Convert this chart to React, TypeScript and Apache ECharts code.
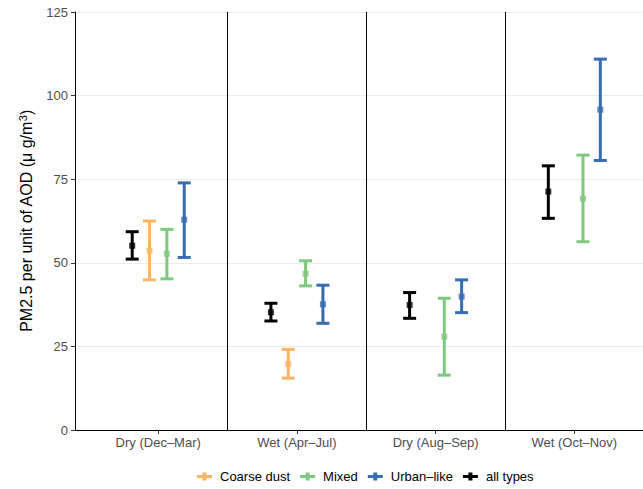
import React, { useEffect, useRef } from "react";
import * as echarts from "echarts";

const categories = ["Dry (Dec–Mar)", "Wet (Apr–Jul)", "Dry (Aug–Sep)", "Wet (Oct–Nov)"];

// order of dodge inside each season
const groupNames = ["all types", "Coarse dust", "Mixed", "Urban–like"];
const legendOrder = ["Coarse dust", "Mixed", "Urban–like", "all types"];

const allTypesMean = [55.1, 35.2, 37.4, 71.3];
const allTypesLow = [51.1, 32.6, 33.4, 63.3];
const allTypesHigh = [59.3, 37.9, 41.1, 79.0];

const coarseMean = [53.6, 19.7, null, null];
const coarseLow = [44.9, 15.5, null, null];
const coarseHigh = [62.5, 24.1, null, null];

const mixedMean = [52.7, 46.7, 27.9, 69.2];
const mixedLow = [45.2, 43.1, 16.4, 56.3];
const mixedHigh = [60.0, 50.6, 39.4, 82.2];

const urbanMean = [62.9, 37.6, 39.9, 95.8];
const urbanLow = [51.6, 31.9, 35.1, 80.6];
const urbanHigh = [73.9, 43.3, 44.9, 110.9];

const groupData: Record<string, { mean: (number | null)[]; low: (number | null)[]; high: (number | null)[] }> = {
  "all types": { mean: allTypesMean, low: allTypesLow, high: allTypesHigh },
  "Coarse dust": { mean: coarseMean, low: coarseLow, high: coarseHigh },
  Mixed: { mean: mixedMean, low: mixedLow, high: mixedHigh },
  "Urban–like": { mean: urbanMean, low: urbanLow, high: urbanHigh },
};

const colors: Record<string, string> = {
  "all types": "#000000",
  "Coarse dust": "#FDB462",
  Mixed: "#7FC97F",
  "Urban–like": "#386CB0",
};

const dodgeOffsets = [-0.1875, -0.0625, 0.0625, 0.1875];
const FONT = "Liberation Sans, Arial, Helvetica, sans-serif";

export default function App() {
  const ref = useRef<HTMLDivElement>(null);
  useEffect(() => {
    document.body.style.margin = "0";
    if (!ref.current) return;
    const chart = echarts.init(ref.current, null, { renderer: "svg" });
    const series: any[] = [];
    groupNames.forEach((g, gi) => {
      const d = groupData[g];
      const color = colors[g];
      const bars: number[][] = [];
      const pts: number[][] = [];
      categories.forEach((_, ci) => {
        const m = d.mean[ci], lo = d.low[ci], hi = d.high[ci];
        if (m == null || lo == null || hi == null) return;
        const x = ci + 1 + dodgeOffsets[gi];
        bars.push([x, lo, hi]);
        pts.push([x, m]);
      });
      series.push({
        name: g,
        type: "custom",
        itemStyle: { color },
        data: bars,
        encode: { x: 0, y: [1, 2] },
        renderItem: (params: any, api: any) => {
          const x = api.value(0);
          const pHi = api.coord([x, api.value(2)]);
          const pLo = api.coord([x, api.value(1)]);
          const hw = 6.5;
          const st = { stroke: color, lineWidth: 3, lineCap: "butt" };
          return {
            type: "group",
            children: [
              { type: "line", shape: { x1: pHi[0], y1: pHi[1], x2: pLo[0], y2: pLo[1] }, style: st },
              { type: "line", shape: { x1: pHi[0] - hw, y1: pHi[1], x2: pHi[0] + hw, y2: pHi[1] }, style: st },
              { type: "line", shape: { x1: pLo[0] - hw, y1: pLo[1], x2: pLo[0] + hw, y2: pLo[1] }, style: st },
            ],
          };
        },
      });
      series.push({
        name: g,
        type: "scatter",
        symbol: "rect",
        symbolSize: 6,
        itemStyle: { color },
        data: pts,
        z: 3,
      });
    });
    // separators between seasons
    series.push({
      name: "sep",
      type: "line",
      data: [],
      markLine: {
        silent: true,
        symbol: "none",
        label: { show: false },
        lineStyle: { color: "#000", width: 1, type: "solid" },
        data: [{ xAxis: 1.5 }, { xAxis: 2.5 }, { xAxis: 3.5 }],
      },
    });

    const icon = "path://M0,3H5.5V0.5H9.5V3H15V6H9.5V8.5H5.5V6H0Z";
    chart.setOption({
      animation: false,
      textStyle: { fontFamily: FONT },
      grid: { left: 75, right: 0, top: 12, bottom: 59, containLabel: false },
      legend: {
        bottom: 1,
        left: 192,
        itemWidth: 15,
        itemHeight: 8,
        itemGap: 10,
        textStyle: { fontSize: 13, color: "#000", fontFamily: FONT, padding: [0, 0, 0, 3] },
        data: legendOrder.map((n) => ({ name: n, icon, itemStyle: { color: colors[n] } })),
      },
      xAxis: {
        type: "value",
        min: 0.4,
        max: 0.4 + 568 / 138.7,
        axisLine: { show: true, onZero: false, lineStyle: { color: "#000", width: 1 } },
        axisTick: { show: true, customValues: [1, 2, 3, 4], length: 4, lineStyle: { color: "#333" } },
        axisLabel: {
          customValues: [1, 2, 3, 4],
          formatter: (v: number) => categories[Math.round(v) - 1] ?? "",
          color: "#4d4d4d",
          fontSize: 13,
          margin: 6,
          fontFamily: FONT,
        },
        splitLine: { show: false },
      },
      yAxis: {
        type: "value",
        min: 0,
        max: 125,
        interval: 25,
        name: "PM2.5 per unit of AOD (μ g/m{sup|3})",
        nameLocation: "middle",
        nameGap: 39,
        nameTextStyle: {
          fontSize: 16,
          color: "#000",
          fontFamily: FONT,
          rich: { sup: { fontSize: 11, padding: [0, 0, 8, 0], fontFamily: FONT, color: "#000" } },
        },
        axisLine: { show: true, lineStyle: { color: "#000", width: 1 } },
        axisTick: { show: true, length: 4, lineStyle: { color: "#333" } },
        axisLabel: { color: "#4d4d4d", fontSize: 13, margin: 7, fontFamily: FONT },
        splitLine: { show: true, lineStyle: { color: "#ebebeb", width: 1 } },
      },
      series,
    });
    return () => chart.dispose();
  }, []);
  return <div ref={ref} style={{ width: 643, height: 489 }} />;
}
